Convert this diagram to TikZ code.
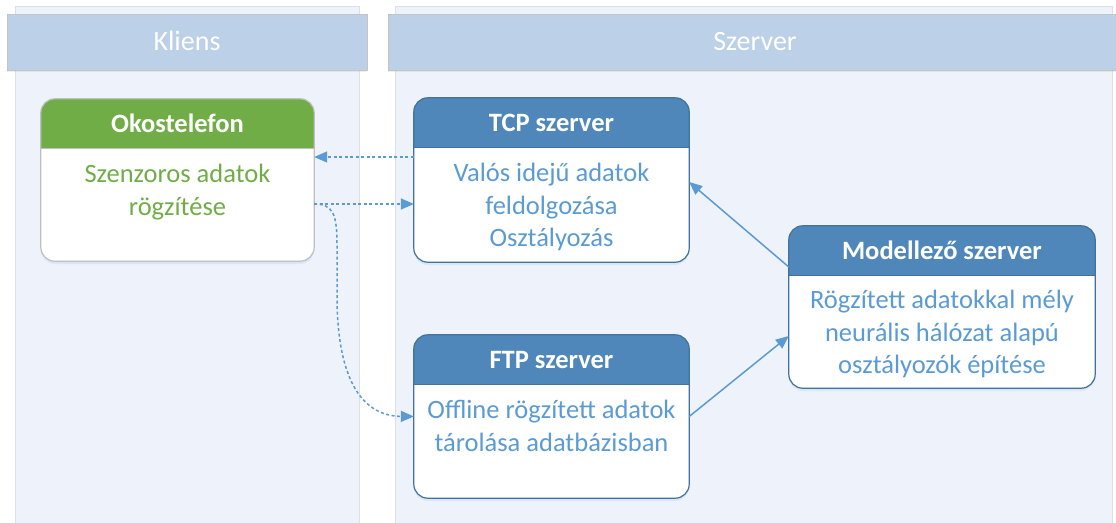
\documentclass[tikz,border=0pt]{standalone}
\usepackage{fontspec}
\setmainfont{Carlito}
\usetikzlibrary{arrows.meta,shadows}

\definecolor{laneFill}{HTML}{EEF2FA}
\definecolor{laneEdge}{HTML}{DCDFE5}
\definecolor{headFill}{HTML}{BCD0E8}
\definecolor{headEdge}{HTML}{C4C4C4}
\definecolor{cardBlue}{HTML}{4F87BA}
\definecolor{cardBlueEdge}{HTML}{41719C}
\definecolor{cardGreen}{HTML}{70AD47}
\definecolor{cardGreenEdge}{HTML}{BFBFBF}
\definecolor{txtBlue}{HTML}{5B9BD5}
\definecolor{linkBlue}{HTML}{5B9BD5}

\tikzset{
  lanepanel/.style={fill=laneFill, draw=laneEdge, line width=1pt},
  laneheader/.style={fill=headFill, draw=headEdge, line width=1pt,
    drop shadow={shadow xshift=0pt, shadow yshift=-2pt, opacity=0.12}},
  lanetitle/.style={text=white, font=\fontsize{28}{32}\selectfont, anchor=base},
  card/.style={rectangle, rounded corners=14pt, fill=white, inner sep=0pt,
    drop shadow={shadow xshift=0pt, shadow yshift=-3pt, opacity=0.12, fill=linkBlue}},
  cardtitle/.style={text=white, font=\bfseries\fontsize{26.5}{30}\selectfont, anchor=base},
  cardbody/.style={font=\fontsize{26.5}{32.5}\selectfont, align=center, anchor=base},
  dotlink/.style={draw=linkBlue, line width=1.5pt, dash pattern=on 3pt off 2.5pt,
    -{Triangle[length=13pt,width=11pt]}},
  solidlink/.style={draw=linkBlue, line width=1.5pt,
    -{Triangle[length=13pt,width=11pt]}},
}

% #1 name, #2 centre, #3 width, #4 height, #5 header colour, #6 border colour, #7 title
\newcommand\mkcard[7]{%
  \node[card, minimum width=#3, minimum height=#4] (#1) at (#2) {};
  \begin{scope}
    \clip[rounded corners=14pt] (#1.south west) rectangle (#1.north east);
    \fill[#5] (#1.north west) rectangle ([yshift=-50pt]#1.north east);
  \end{scope}
  \draw[#6, line width=0.8pt] ([yshift=-50pt]#1.north west) -- ([yshift=-50pt]#1.north east);
  \draw[#6, line width=1.2pt, rounded corners=14pt] (#1.south west) rectangle (#1.north east);
  \node[cardtitle] (#1-title) at ([yshift=-34pt]#1.north) {#7};
}

\begin{document}
\begin{tikzpicture}[x=1pt, y=-1pt]
  \useasboundingbox (0,0) rectangle (1116,522);
  \fill[white] (0,0) rectangle (1116,522);

  % swimlanes
  \draw[lanepanel] (15,6) rectangle (359,540);
  \draw[lanepanel] (395,6) rectangle (1112,540);
  \draw[laneheader] (7,14) rectangle (367,70);
  \draw[laneheader] (388,14) rectangle (1125,70);
  \node[lanetitle] (kliens) at (187,50) {Kliens};
  \node[lanetitle] (szerver) at (755,50) {Szerver};

  % cards
  \mkcard{oko}{177.5,180}{273pt}{162pt}{cardGreen}{cardGreenEdge}{Okostelefon}
  \mkcard{tcp}{551.5,180}{275pt}{164pt}{cardBlue}{cardBlueEdge}{TCP szerver}
  \mkcard{ftp}{551.5,416.5}{275pt}{163pt}{cardBlue}{cardBlueEdge}{FTP szerver}
  \mkcard{mod}{942,307}{306pt}{162pt}{cardBlue}{cardBlueEdge}{Modellező szerver}

  % body texts, placed by the baseline of their last line
  \node[cardbody, text=cardGreen] (oko-body) at ([yshift=-116.5pt]oko.north)
    {Szenzoros adatok\\rögzítése};
  \node[cardbody, text=txtBlue] (tcp-body) at ([yshift=-149pt]tcp.north)
    {Valós idejű adatok\\feldolgozása\\Osztályozás};
  \node[cardbody, text=txtBlue] (ftp-body) at ([yshift=-116.5pt]ftp.north)
    {Offline rögzített adatok\\tárolása adatbázisban};
  \node[cardbody, text=txtBlue] (mod-body) at ([yshift=-148pt]mod.north)
    {Rögzített adatokkal mély\\neurális hálózat alapú\\osztályozók építése};

  % connectors
  \coordinate (okoOut) at ([yshift=-24pt]oko.east);
  \draw[dotlink] ([yshift=23pt]tcp.west) -- ([yshift=23pt]oko.east);
  \draw[dotlink] (okoOut) -- ([yshift=-24pt]tcp.west);
  \draw[dotlink] (okoOut) .. controls (333,204) and (337,214) .. (337,245)
    -- (337,300) .. controls (338,385) and (365,416) .. (ftp.west);
  \draw[solidlink] ([yshift=40pt]mod.west) -- ([yshift=-2pt]tcp.east);
  \draw[solidlink] (ftp.east) -- ([yshift=-29pt]mod.west);
\end{tikzpicture}
\end{document}
